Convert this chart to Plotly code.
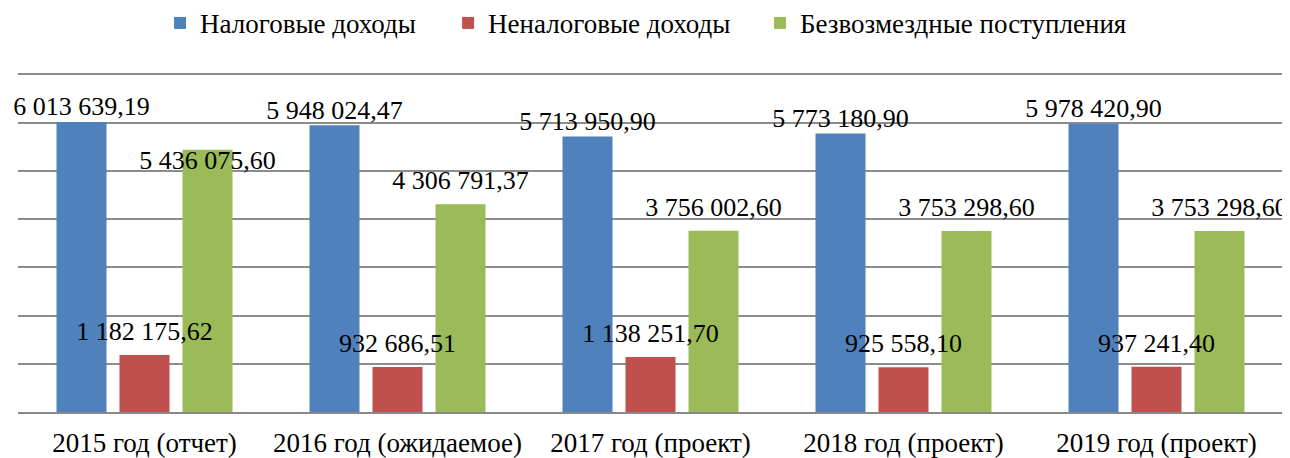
import plotly.graph_objects as go

categories = ["2015 год (отчет)", "2016 год (ожидаемое)", "2017 год (проект)",
              "2018 год (проект)", "2019 год (проект)"]
tax = [6013639.19, 5948024.47, 5713950.90, 5773180.90, 5978420.90]
nontax = [1182175.62, 932686.51, 1138251.70, 925558.10, 937241.40]
grants = [5436075.60, 4306791.37, 3756002.60, 3753298.60, 3753298.60]

# (name, values, colour, label offset marker size, label positions, legend id, legend x)
series = [
    ("Налоговые доходы", tax, "#4F81BD", 0, ["top center"] * 5, "legend", 0.1123),
    ("Неналоговые доходы", nontax, "#C0504D", 12, ["top center"] * 5, "legend2", 0.340),
    ("Безвозмездные поступления", grants, "#9BBB59", 12,
     ["bottom center"] + ["top center"] * 4, "legend3", 0.5866),
]


def fmt(v):
    return f"{v:,.2f}".replace(",", " ").replace(".", ",")


FONT = "Liberation Serif, Times New Roman, serif"
GAP = 0.253

fig = go.Figure()
for i, (name, vals, color, msize, tpos, leg, lx) in enumerate(series):
    fig.add_trace(go.Bar(
        name=name, x=categories, y=vals,
        marker=dict(color=color, line=dict(width=0)),
        offsetgroup=str(i), legend=leg,
    ))
# value labels drawn on top of all bars
for i, (name, vals, color, msize, tpos, leg, lx) in enumerate(series):
    sizes = [msize if p == "top center" else 0 for p in tpos]
    fig.add_trace(go.Scatter(
        x=categories, y=vals, mode="markers+text",
        marker=dict(size=sizes, opacity=0),
        text=[fmt(v) for v in vals],
        textposition=tpos,
        textfont=dict(family=FONT, size=26, color="#000000"),
        showlegend=False, hoverinfo="skip", cliponaxis=False,
        offsetgroup=str(i),
    ))

legend_style = dict(orientation="h", xanchor="left", y=1.143, yanchor="middle",
                    font=dict(family=FONT, size=27), itemwidth=30,
                    bgcolor="rgba(0,0,0,0)")

fig.update_layout(
    width=1282, height=450,
    margin=dict(l=10, r=7, t=64, b=46, autoexpand=False),
    paper_bgcolor="white", plot_bgcolor="white",
    barmode="group", bargap=GAP, bargroupgap=0.206,
    scattermode="group", scattergap=GAP,
    font=dict(family=FONT, size=27, color="#000000"),
    showlegend=True,
    xaxis=dict(showgrid=False, showline=True, linecolor="#888888", linewidth=2,
               ticks="", ticklabelstandoff=6, tickfont=dict(family=FONT, size=27)),
    yaxis=dict(range=[0, 7050000], dtick=1000000, showgrid=True,
               gridcolor="#8C8C8C", gridwidth=2, showticklabels=False,
               zeroline=False, showline=False),
)
for name, vals, color, msize, tpos, leg, lx in series:
    fig.update_layout({leg: dict(legend_style, x=lx)})

fig.write_html("out.html")
